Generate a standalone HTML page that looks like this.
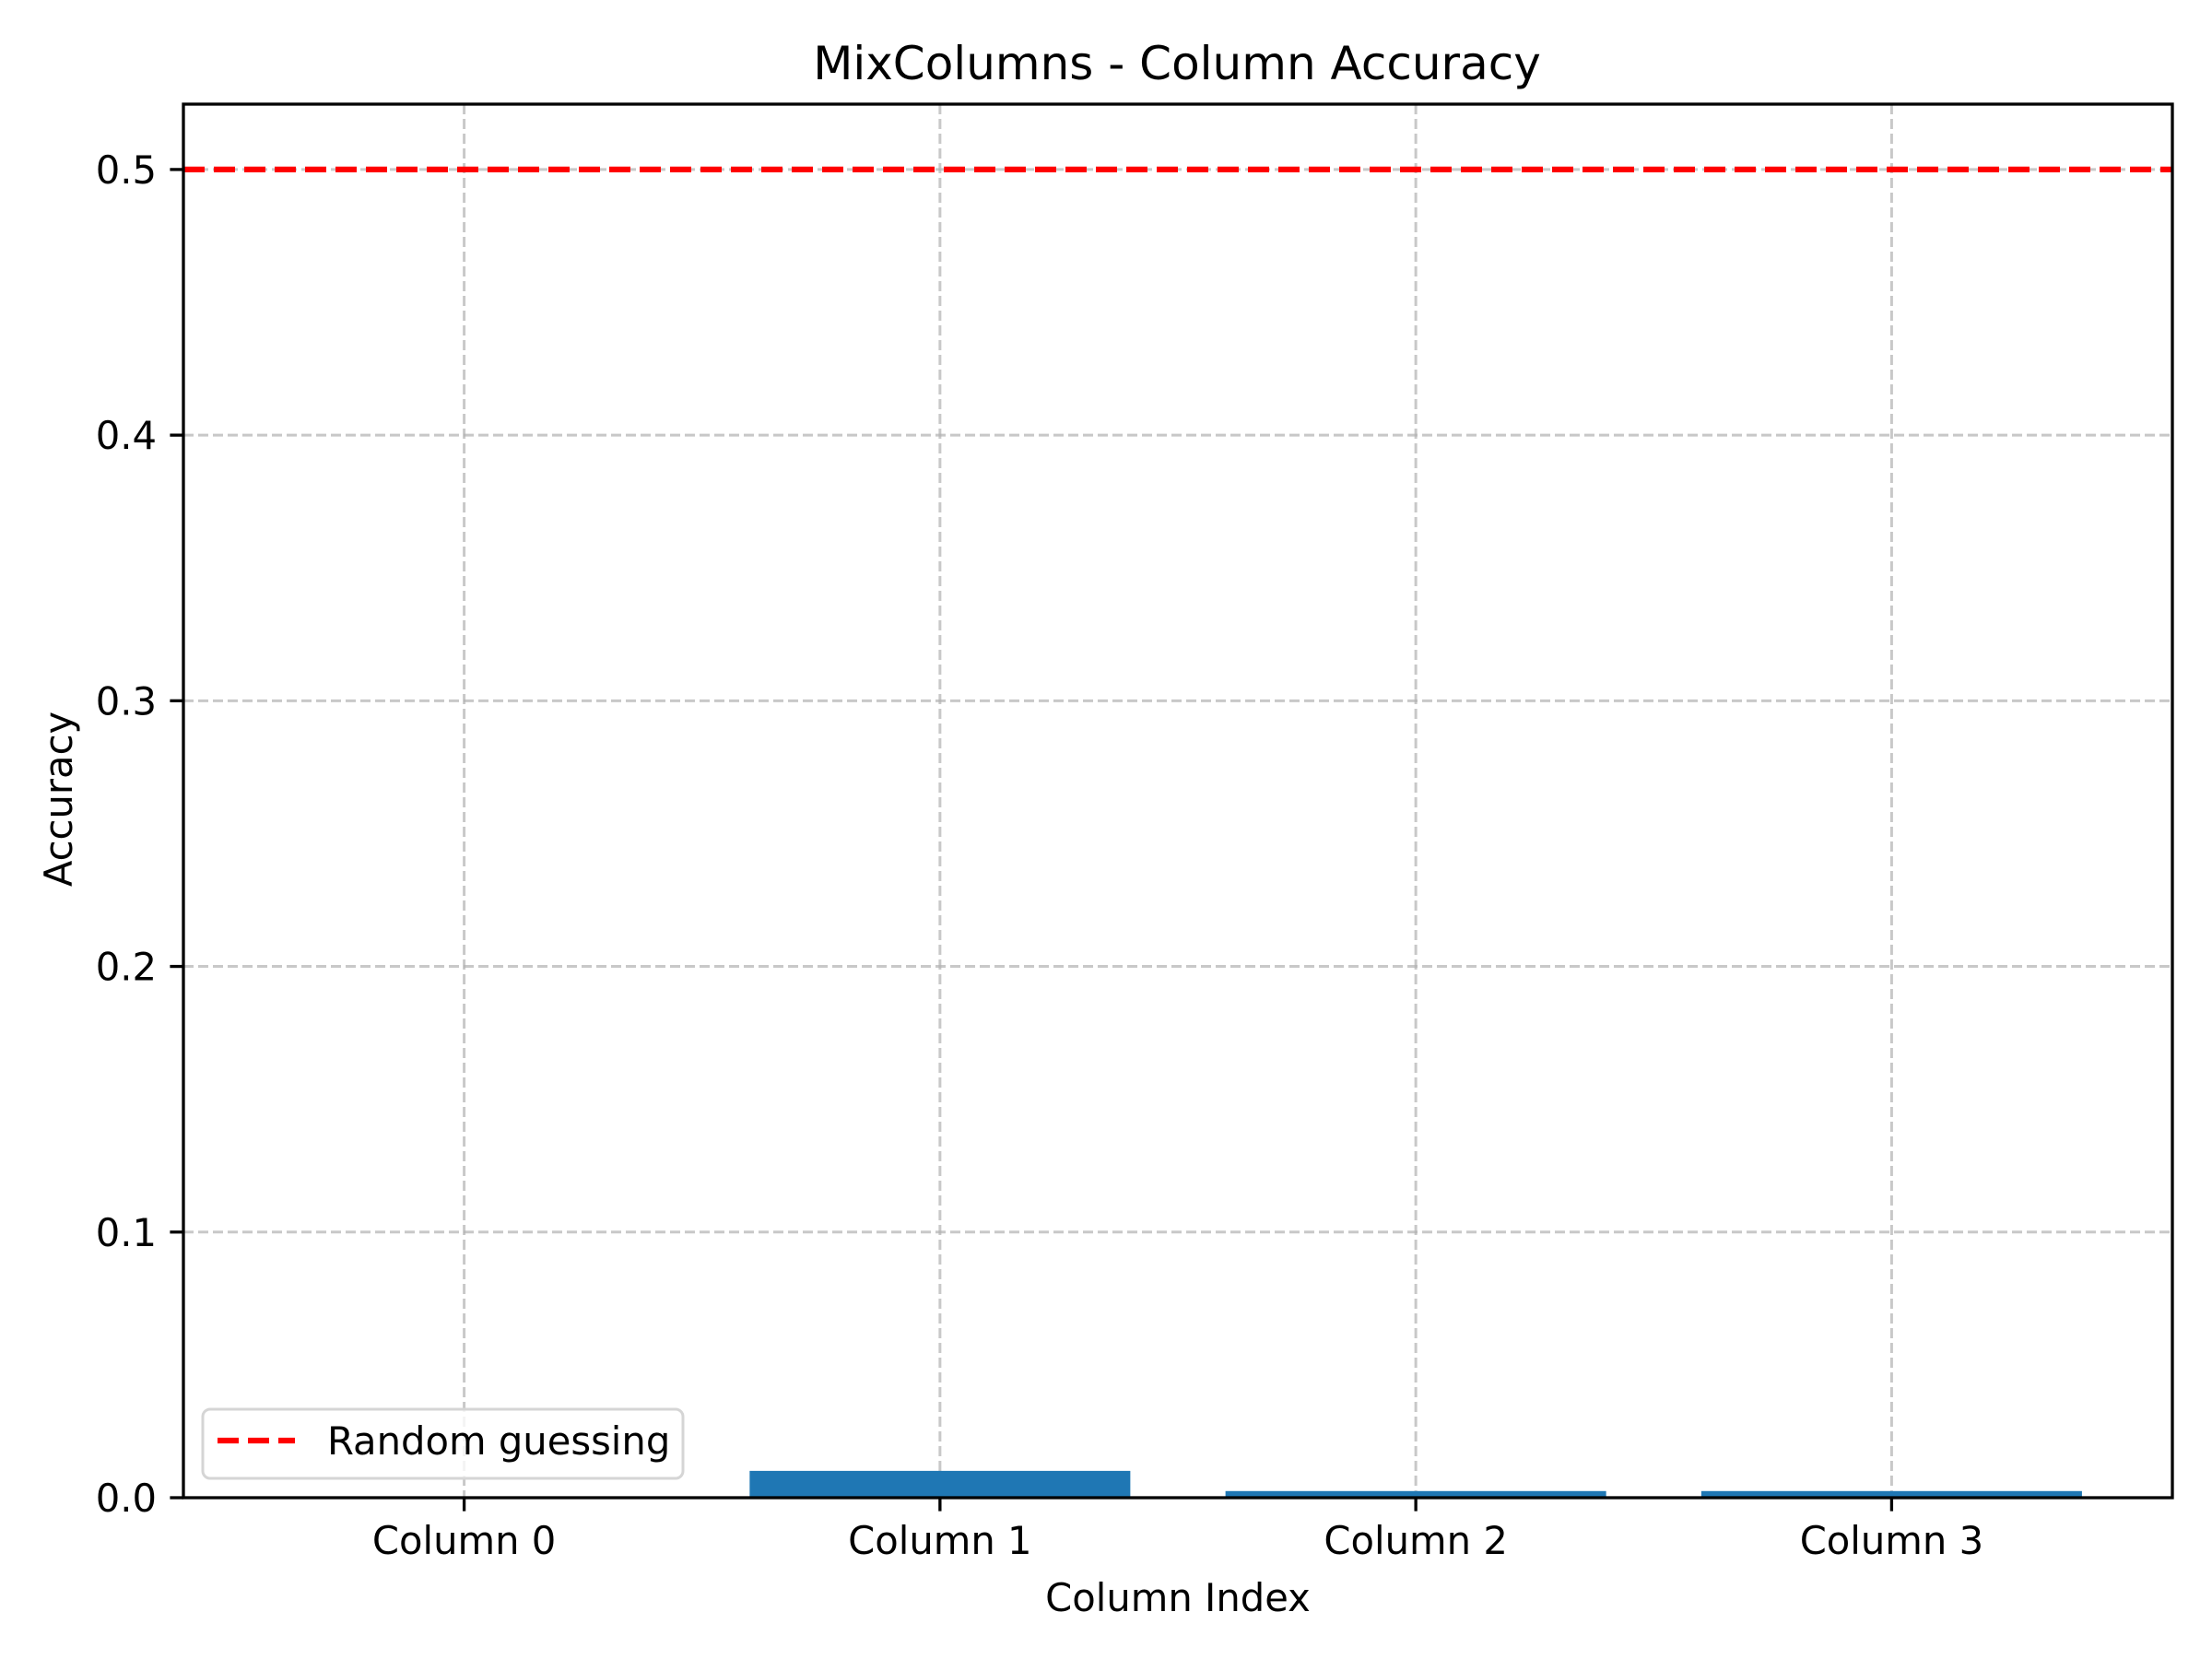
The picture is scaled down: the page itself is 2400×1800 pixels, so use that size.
<!DOCTYPE html>
<html><head><meta charset="utf-8"><style>
html,body{margin:0;padding:0;background:#fff}
svg{display:block;font-family:"DejaVu Sans","Liberation Sans",sans-serif}
</style></head><body>
<svg id="chart" width="2400" height="1800" viewBox="0 0 2400 1800">
<rect width="2400" height="1800" fill="#fff"/>
<g id="grid"></g>
<g id="bars"></g>
<g id="refline"></g>
<g id="axes"></g>
<text x="1277" y="86" font-size="50" text-anchor="middle">MixColumns - Column Accuracy</text>
<text x="1278" y="1748" font-size="41.7" text-anchor="middle">Column Index</text>
<text transform="translate(78,867) rotate(-90)" font-size="41.7" text-anchor="middle">Accuracy</text>
<g>
<rect x="220" y="1529" width="521" height="75" rx="8" fill="#fff" fill-opacity="0.8" stroke="#d5d5d5" stroke-width="3"/>
<line x1="236" y1="1563" x2="320" y2="1563" stroke="#ff0000" stroke-width="6.25" stroke-dasharray="23 10"/>
<text x="355" y="1578" font-size="41.7">Random guessing</text>
</g>
</svg>
<script>
const categories = ["Column 0","Column 1","Column 2","Column 3"];
const accuracy = [0, 0.0101, 0.0025, 0.0025];
const yTicks = [0,0.1,0.2,0.3,0.4,0.5];
const yTickLabels = ["0.0","0.1","0.2","0.3","0.4","0.5"];
const randomGuess = [0.5];

const L=199,R=2357,T=113,B=1625;
const xMin=-0.59,xMax=3.59,yMin=0,yMax=0.5246;
const NS="http://www.w3.org/2000/svg";
function sx(v){return L+(v-xMin)/(xMax-xMin)*(R-L);}
function sy(v){return B-(v-yMin)/(yMax-yMin)*(B-T);}
function mk(tag,attrs,parent){const e=document.createElementNS(NS,tag);for(const k in attrs)e.setAttribute(k,attrs[k]);parent.appendChild(e);return e;}
const grid=document.getElementById('grid'),bars=document.getElementById('bars'),axes=document.getElementById('axes'),ref=document.getElementById('refline');

yTicks.forEach((t,i)=>{
  const g=mk('line',{x1:L,x2:R,y1:sy(t),y2:sy(t),stroke:'#b0b0b0','stroke-opacity':0.7,'stroke-width':3,'stroke-dasharray':'11 5'},grid);
  
  
  const tk=mk('line',{x1:L-14.6,x2:L,y1:sy(t),y2:sy(t),stroke:'#000','stroke-width':3.3},axes);
  
  
  const tx=mk('text',{x:L-29,y:sy(t)+15,'font-size':41.7,'text-anchor':'end'},axes);
  tx.textContent=yTickLabels[i];
  
  
});
categories.forEach((c,i)=>{
  const g=mk('line',{x1:sx(i),x2:sx(i),y1:T,y2:B,stroke:'#b0b0b0','stroke-opacity':0.7,'stroke-width':3,'stroke-dasharray':'11 5'},grid);
  
  
  const x0=sx(i-0.4),x1=sx(i+0.4);
  const b=mk('rect',{x:x0,y:sy(accuracy[i]),width:x1-x0,height:Math.max(0,B-sy(accuracy[i])),fill:'#1f77b4'},bars);
  
  
  const tk=mk('line',{x1:sx(i),x2:sx(i),y1:B,y2:B+14.6,stroke:'#000','stroke-width':3.3},axes);
  
  
  const tx=mk('text',{x:sx(i),y:B+61,'font-size':41.7,'text-anchor':'middle'},axes);
  tx.textContent=c;
  
  
});
randomGuess.forEach(v=>{
  const l=mk('line',{x1:L,x2:R,y1:sy(v),y2:sy(v),stroke:'#ff0000','stroke-width':6.25,'stroke-dasharray':'23 10'},ref);
  
  
});
const fr=mk('rect',{x:L,y:T,width:R-L,height:B-T,fill:'none',stroke:'#000','stroke-width':3.3},axes);


</script>
</body></html>
